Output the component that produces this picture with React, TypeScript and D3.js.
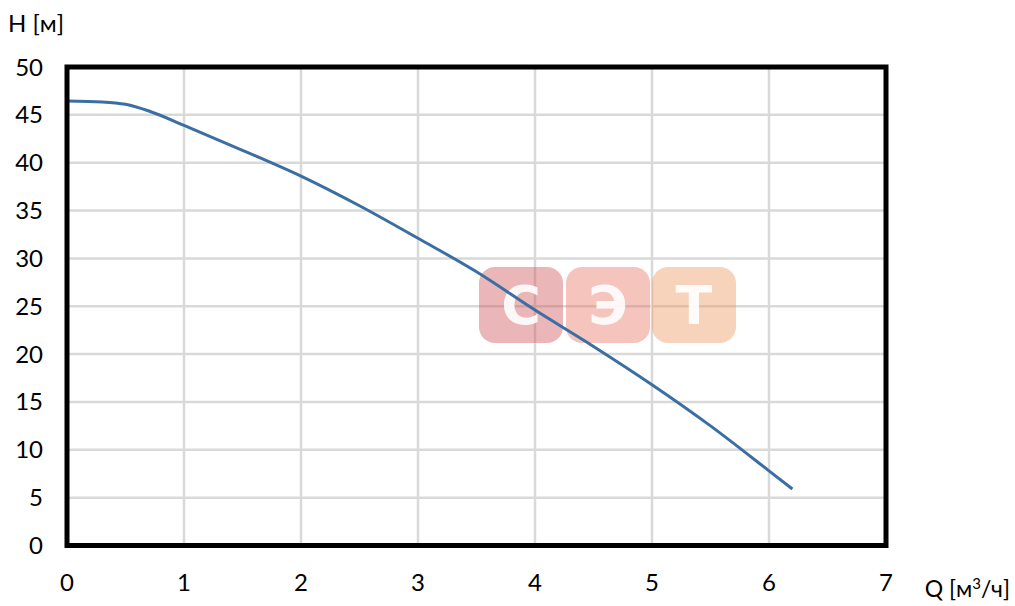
import React from "react";
import * as d3 from "d3";

const qValues = [0, 0.3, 0.5, 0.7, 1, 1.5, 2, 2.5, 3, 3.5, 4, 4.5, 5, 5.5, 6, 6.2];
const hValues = [46.45, 46.35, 46.1, 45.4, 43.9, 41.3, 38.6, 35.5, 32.1, 28.6, 24.6, 20.8, 16.8, 12.5, 7.8, 5.9];
const xTicks = [0, 1, 2, 3, 4, 5, 6, 7];
const yTicks = [0, 5, 10, 15, 20, 25, 30, 35, 40, 45, 50];
const watermark = ["С", "Э", "Т"];
const wmColors = ["rgba(205,80,85,0.42)", "rgba(232,115,95,0.42)", "rgba(238,150,95,0.42)"];

export default function App() {
  const W = 1015, H = 606;
  const x = d3.scaleLinear().domain([0, 7]).range([67, 886]);
  const y = d3.scaleLinear().domain([0, 50]).range([545.5, 67]);
  const line = d3.line<number>().x((_, i) => x(qValues[i])).y((d) => y(d)).curve(d3.curveMonotoneX);
  const font = "Lato, 'Open Sans', sans-serif";
  const wmX = [479, 566, 652];
  return (
    <svg width={W} height={H} style={{ position: "absolute", left: 0, top: 0 }} fontFamily={font}>
      <rect width={W} height={H} fill="#fff" />
      {xTicks.slice(1, -1).map((t) => (
        <line key={"gx" + t} x1={x(t)} x2={x(t)} y1={y(50)} y2={y(0)} stroke="#d9d9d9" strokeWidth={2.5} />
      ))}
      {yTicks.slice(1, -1).map((t) => (
        <line key={"gy" + t} x1={x(0)} x2={x(7)} y1={y(t)} y2={y(t)} stroke="#d9d9d9" strokeWidth={2.5} />
      ))}
      {watermark.map((c, i) => (
        <g key={c}>
          <rect x={wmX[i]} y={267} width={84} height={76} rx={16} fill={wmColors[i]} />
          <text x={wmX[i] + 42} y={324} textAnchor="middle" fontSize={54} fontWeight="bold" fill="#fff" fillOpacity={0.9}
            fontFamily="'DejaVu Sans', sans-serif">{c}</text>
        </g>
      ))}
      <path d={line(hValues) || ""} fill="none" stroke="#3b6fa3" strokeWidth={3} />
      <rect x={x(0)} y={y(50)} width={x(7) - x(0)} height={y(0) - y(50)} fill="none" stroke="#000" strokeWidth={5} />
      {yTicks.map((t) => (
        <text key={"yl" + t} x={43} y={y(t) + 8.5} textAnchor="end" fontSize={24} fill="#000">{t}</text>
      ))}
      {xTicks.map((t) => (
        <text key={"xl" + t} x={x(t)} y={591} textAnchor="middle" fontSize={24} fill="#000">{t}</text>
      ))}
      <text x={8} y={32} fontSize={24} fill="#000">H [м]</text>
      <text x={1010} y={597} fontSize={23} fill="#000" textAnchor="end">Q [м<tspan dy={-8} fontSize={15}>3</tspan><tspan dy={8}>/ч]</tspan></text>
    </svg>
  );
}
